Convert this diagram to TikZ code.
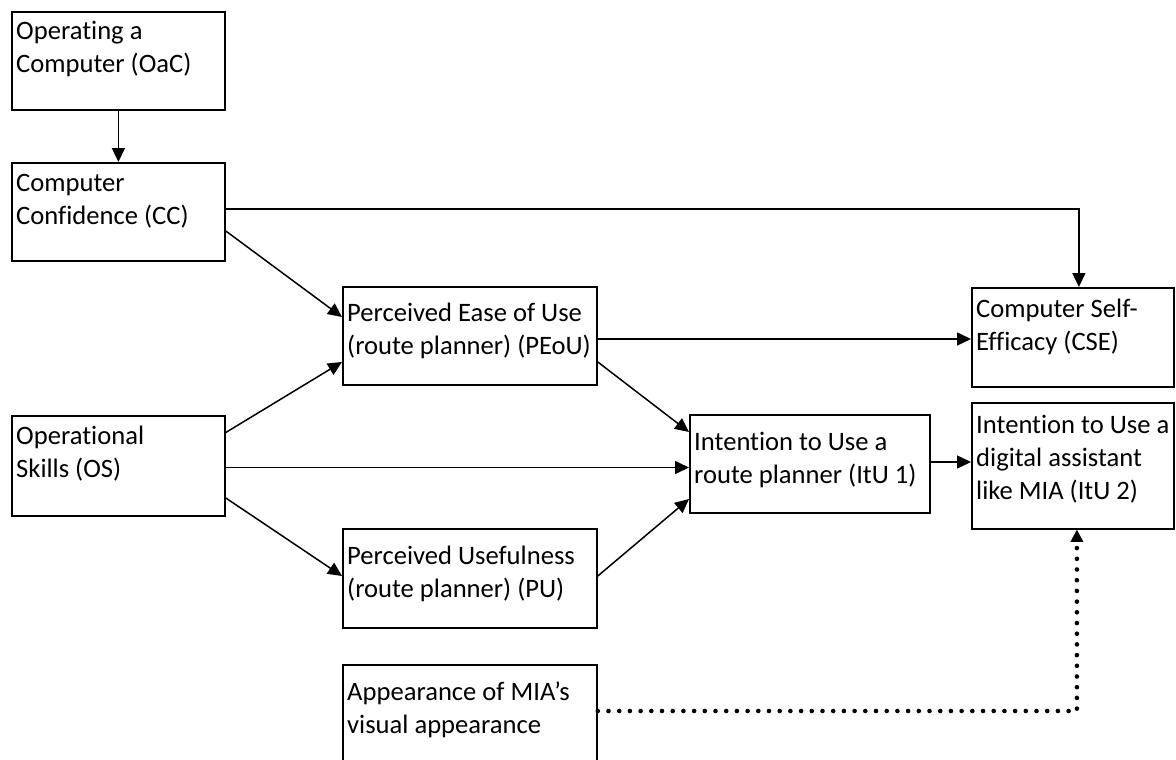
\documentclass[tikz,border=0pt]{standalone}
\usepackage{fontspec}
\setmainfont{Carlito}[Ligatures={NoCommon,NoContextual,NoRequired,NoRare},RawFeature={-calt;-liga;-dlig}]
\usetikzlibrary{arrows.meta}
\newcommand\firstTop[1]{\rule{0pt}{#1pt}}
\begin{document}
\begin{tikzpicture}[x=1pt,y=1pt,
  box/.style={draw=black, line width=1.8pt, anchor=north west, inner sep=0pt, fill=white},
  lbl/.style={anchor=north west, inner sep=0pt, align=left, font=\fontsize{26.6}{33}\selectfont},
  arr/.style={line width=1.5pt, -{Triangle[length=14pt,width=13pt]}},
  dotarr/.style={line width=4.6pt, line cap=round, dash pattern=on 0pt off 10.7pt,
     -{Triangle[length=12pt,width=13pt,line width=0pt]}}
]
\useasboundingbox (0,0) rectangle (1176,-760);
\clip (0,0) rectangle (1176,-760);
\fill[white] (0,0) rectangle (1176,-760);

% boxes
\node[box, minimum width=213pt, minimum height=98pt] (oac) at (11,-11) {};
\node[box, minimum width=213pt, minimum height=98pt] (cc) at (11,-162) {};
\node[box, minimum width=213pt, minimum height=100pt] (os) at (11,-415) {};
\node[box, minimum width=254pt, minimum height=98pt] (peou) at (342,-286) {};
\node[box, minimum width=254pt, minimum height=99pt] (pu) at (342,-528) {};
\node[box, minimum width=254pt, minimum height=98pt] (app) at (342,-664) {};
\node[box, minimum width=240pt, minimum height=98pt] (itu1) at (689,-414) {};
\node[box, minimum width=202pt, minimum height=99pt] (cse) at (971,-287) {};
\node[box, minimum width=202pt, minimum height=126pt] (itu2) at (971,-402) {};

% texts
\node[lbl] (oac-t) at ([xshift=5pt]oac.north west) {\firstTop{28.5}Operating a\\Computer (OaC)};
\node[lbl] (cc-t) at ([xshift=5pt]cc.north west) {\firstTop{29}Computer\\Confidence (CC)};
\node[lbl] (os-t) at ([xshift=5pt]os.north west) {\firstTop{29}Operational\\Skills (OS)};
\node[lbl] (peou-t) at ([xshift=5pt]peou.north west) {\firstTop{35.5}Perceived Ease of Use\\(route planner) (PEoU)};
\node[lbl] (pu-t) at ([xshift=5pt]pu.north west) {\firstTop{36}Perceived Usefulness\\(route planner) (PU)};
\node[lbl] (app-t) at ([xshift=5pt]app.north west) {\firstTop{36}Appearance of MIA’s\\visual appearance};
\node[lbl] (itu1-t) at ([xshift=5pt]itu1.north west) {\firstTop{36}Intention to Use a\\route planner (ItU 1)};
\node[lbl] (cse-t) at ([xshift=5pt]cse.north west) {\firstTop{30}Computer Self-\\Efficacy (CSE)};
\node[lbl] (itu2-t) at ([xshift=5pt]itu2.north west) {\firstTop{31.5}Intention to Use a\\digital assistant\\like MIA (ItU 2)};

% connectors
\draw[arr] (oac.south) -- (cc.north);
\draw[arr] ([yshift=-47pt]cc.north east) -| ([xshift=6pt]cse.north);
\draw[arr] ([yshift=-69pt]cc.north east) -- ([yshift=-31pt]peou.north west);
\draw[arr] ([yshift=-17.5pt]os.north east) -- ([yshift=-76pt]peou.north west);
\draw[arr] ([yshift=-52.5pt]os.north east) -- ([yshift=-53.5pt]itu1.north west);
\draw[arr] ([yshift=-83pt]os.north east) -- ([yshift=-48pt]pu.north west);
\draw[arr] ([yshift=-53pt]peou.north east) -- ([yshift=-52pt]cse.north west);
\draw[arr] ([yshift=-76pt]peou.north east) -- ([yshift=-18pt]itu1.north west);
\draw[arr] ([yshift=-48pt]pu.north east) -- ([yshift=-85pt]itu1.north west);
\draw[arr] ([yshift=-48pt]itu1.north east) -- ([yshift=-60pt]itu2.north west);
\draw[dotarr] ([yshift=-47pt]app.north east) -| ([xshift=4pt]itu2.south);
\end{tikzpicture}
\end{document}
